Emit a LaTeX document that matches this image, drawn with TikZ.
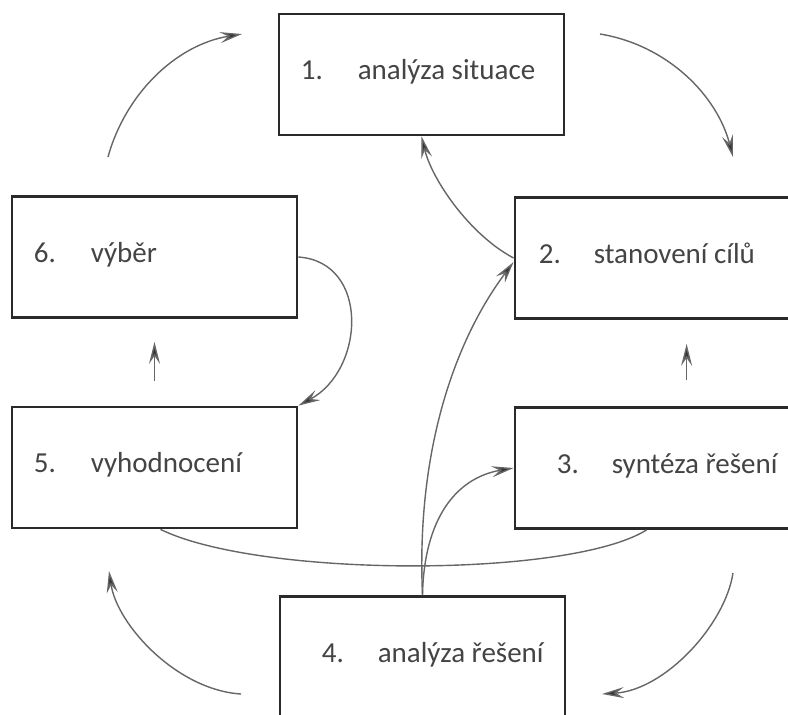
\documentclass[tikz,border=0pt]{standalone}
\usepackage{fontspec}
\setmainfont{Carlito}
\usetikzlibrary{arrows.meta,calc}
\definecolor{boxline}{HTML}{2A2A2A}
\definecolor{linkline}{HTML}{666666}
\definecolor{labeltext}{HTML}{444444}
\begin{document}
\begin{tikzpicture}[x=1pt,y=-1pt,
  stagebox/.style={draw=boxline,line width=2.8pt,minimum width=285pt,minimum height=121pt,inner sep=0pt,fill=white},
  stagetext/.style={anchor=base west,inner sep=0pt,text=labeltext,font=\fontsize{29}{34}\selectfont},
  link/.style={draw=linkline,line width=1.4pt,-{Stealth[length=22pt,width=11pt,inset=8pt,fill=boxline!85!linkline]}},
  plainlink/.style={draw=linkline,line width=1.4pt}]
\useasboundingbox (0,0) rectangle (788,715);
\clip (0,0) rectangle (788,715);

% the six stages
\node[stagebox] (b1) at (421.5,74.5) {};
\node[stagebox] (b2) at (657.5,258) {};
\node[stagebox] (b3) at (657.5,468) {};
\node[stagebox] (b4) at (422.5,657) {};
\node[stagebox] (b5) at (154.5,467.5) {};
\node[stagebox] (b6) at (154.5,257) {};

\node[stagetext] (t1) at ($(b1.west)+(23,5)$) {\makebox[57pt][l]{1.}analýza situace};
\node[stagetext] (t2) at ($(b2.west)+(25,5)$) {\makebox[55pt][l]{2.}stanovení cílů};
\node[stagetext] (t3) at ($(b3.west)+(43,5)$) {\makebox[55pt][l]{3.}syntéza řešení};
\node[stagetext] (t4) at ($(b4.west)+(43,5)$) {\makebox[56pt][l]{4.}analýza řešení};
\node[stagetext] (t5) at ($(b5.west)+(23,5)$) {\makebox[57pt][l]{5.}vyhodnocení};
\node[stagetext] (t6) at ($(b6.west)+(23,5)$) {\makebox[57pt][l]{6.}výběr};

% outer cycle arcs
\coordinate (a1s) at (108,157); \coordinate (a1e) at (242,34);
\coordinate (a2s) at (600,34);  \coordinate (a2e) at (733,157);
\coordinate (a7s) at (733,573); \coordinate (a7e) at (602,694);
\coordinate (a8s) at (241,694); \coordinate (a8e) at (109,571);
\draw[link] (a1s) .. controls (125,95) and (175,45) .. (a1e);
\draw[link] (a2s) .. controls (667,45) and (717,95) .. (a2e);
\draw[link] (a7s) .. controls (725,625) and (665,690) .. (a7e);
\draw[link] (a8s) .. controls (177,690) and (117,625) .. (a8e);

% inner connectors
\draw[link] (b2.west) .. controls (470,235) and (432,180) .. (b1.south);
\draw[link] (b4.north) .. controls (416,450) and (455,340) .. ($(b2.west)+(0,4)$);
\draw[link] (b4.north) .. controls (424,520) and (455,478) .. (b3.west);
\draw[link] (b6.east) .. controls (370,262) and (365,370) .. (b5.north east);
\draw[plainlink] ($(b5.south)+(6,0)$) .. controls (260,578) and (570,578) .. ($(b3.south west)+(133,0)$);

% short upward arrows
\draw[link] ($(b5.north)+(0,-25)$) -- ($(b6.south)+(0,23)$);
\draw[link] ($(b3.north west)+(173,-26)$) -- ($(b2.south west)+(173,24)$);
\end{tikzpicture}
\end{document}
